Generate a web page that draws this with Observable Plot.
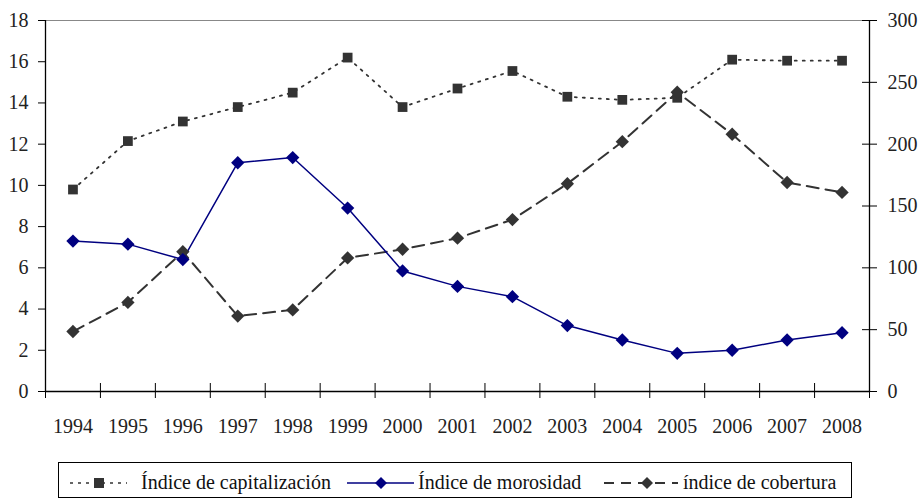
<!DOCTYPE html>
<html><head><meta charset="utf-8">
<script src="https://cdn.jsdelivr.net/npm/d3@7"></script>
<script src="https://cdn.jsdelivr.net/npm/@observablehq/plot@0.6"></script>
<style>
body{margin:0;background:#fff;font-family:'Liberation Serif','Times New Roman',serif;}
#chart svg, #chart svg text{font-family:'Liberation Serif','Times New Roman',serif !important;}
#legend{position:absolute;left:58px;top:462px;width:794px;height:36px;border:1px solid #000;box-sizing:border-box;font-size:20px;color:#111;white-space:nowrap}
#legend .sw{position:absolute;top:13px}
#legend .tx{position:absolute;top:8px;line-height:22px}
</style></head><body>
<div id="chart"></div>
<div id="legend"></div>
<script>
const years = [1994,1995,1996,1997,1998,1999,2000,2001,2002,2003,2004,2005,2006,2007,2008];
const capitalizacion = [9.8,12.15,13.1,13.8,14.5,16.2,13.8,14.7,15.55,14.3,14.15,14.25,16.1,16.05,16.05];
const morosidad = [7.3,7.15,6.4,11.1,11.35,8.9,5.85,5.1,4.6,3.2,2.5,1.85,2.0,2.5,2.85];
const cobertura = [48.5,72,113,61,66,108,115,124,139,168,202,242,208,169,161];
const leftTicks = [0,2,4,6,8,10,12,14,16,18];
const rightTicks = [0,50,100,150,200,250,300];
const seriesNames = ["Índice de capitalización","Índice de morosidad","índice de cobertura"];

const leftMax = 18, rightMax = 300;
const toLeft = v => v * leftMax / rightMax;
const capData = years.map((y,i)=>({year:y, v:capitalizacion[i]}));
const morData = years.map((y,i)=>({year:y, v:morosidad[i]}));
const cobData = years.map((y,i)=>({year:y, v:toLeft(cobertura[i])}));
const bounds = [years[0]-0.5, ...years.map(y=>y+0.5)];
const xMin = bounds[0], xMax = bounds[bounds.length-1];
const ff = "'Liberation Serif','Times New Roman',serif";

const chart = Plot.plot({
  width: 919, height: 440,
  marginLeft: 45, marginRight: 50, marginTop: 20, marginBottom: 49,
  style: {fontFamily: ff, fontSize: "20px", color: "#222"},
  x: {domain: [xMin, xMax], axis: null},
  y: {domain: [0, leftMax], axis: null},
  marks: [
    Plot.ruleY([leftMax], {stroke: "#888", strokeWidth: 1}),
    Plot.axisY({anchor: "left", ticks: leftTicks, tickSize: 7, tickPadding: 10, label: null, stroke: "#000", fill: "#222", fontFamily: ff, fontSize: 20}),
    Plot.axisY({anchor: "right", ticks: rightTicks.map(toLeft), tickFormat: d => String(Math.round(d * rightMax / leftMax)), tickSize: 0, tickPadding: 18, label: null, fill: "#222", fontFamily: ff, fontSize: 20}),
    Plot.ruleY(rightTicks.map(toLeft), {x1: xMax, x2: xMax, insetLeft: -7, insetRight: -8, stroke: "#000"}),
    Plot.ruleX(bounds, {y1: 0, y2: 0, insetTop: -8, insetBottom: -7, stroke: "#000"}),
    Plot.axisX({ticks: years, tickFormat: d => String(d), tickSize: 0, tickPadding: 27, label: null, fill: "#222", fontFamily: ff, fontSize: 20}),
    Plot.ruleX([xMin, xMax], {stroke: "#000", strokeWidth: 1.3}),
    Plot.ruleY([0], {stroke: "#000", strokeWidth: 1.3}),
    Plot.line(capData, {x: "year", y: "v", stroke: "#333", strokeWidth: 1.8, strokeDasharray: "2,6"}),
    Plot.line(cobData, {x: "year", y: "v", stroke: "#333", strokeWidth: 2, strokeDasharray: "12,7"}),
    Plot.line(morData, {x: "year", y: "v", stroke: "#000080", strokeWidth: 1.5}),
    Plot.dot(capData, {x: "year", y: "v", symbol: "square", r: 5.5, fill: "#333", stroke: "none"}),
    Plot.dot(cobData, {x: "year", y: "v", symbol: "diamond2", r: 6, fill: "#333", stroke: "none"}),
    Plot.dot(morData, {x: "year", y: "v", symbol: "diamond2", r: 6, fill: "#000080", stroke: "none"})
  ]
});
document.getElementById("chart").appendChild(chart);

// legend layout (positions relative to legend box)
const legendItems = [
  {sw: 10, sww: 59, tx: 82, svg: `<line x1="1" y1="7" x2="58" y2="7" stroke="#333" stroke-width="1.6" stroke-dasharray="3,5"/><rect x="25" y="2" width="10" height="10" fill="#333"/>`},
  {sw: 288, sww: 67, tx: 359, svg: `<line x1="0" y1="7" x2="67" y2="7" stroke="#000080" stroke-width="1.6"/><path d="M34,1 L40,7 L34,13 L28,7Z" fill="#000080"/>`},
  {sw: 545, sww: 74, tx: 624, svg: `<line x1="0" y1="7" x2="74" y2="7" stroke="#333" stroke-width="1.8" stroke-dasharray="10,7"/><path d="M43,1 L49,7 L43,13 L37,7Z" fill="#333"/>`}
];
document.getElementById("legend").innerHTML = legendItems.map((it,i)=>
  `<svg class="sw" style="left:${it.sw}px" width="${it.sww}" height="14">${it.svg}</svg><span class="tx" style="left:${it.tx}px">${seriesNames[i]}</span>`).join("");
</script>
</body></html>
